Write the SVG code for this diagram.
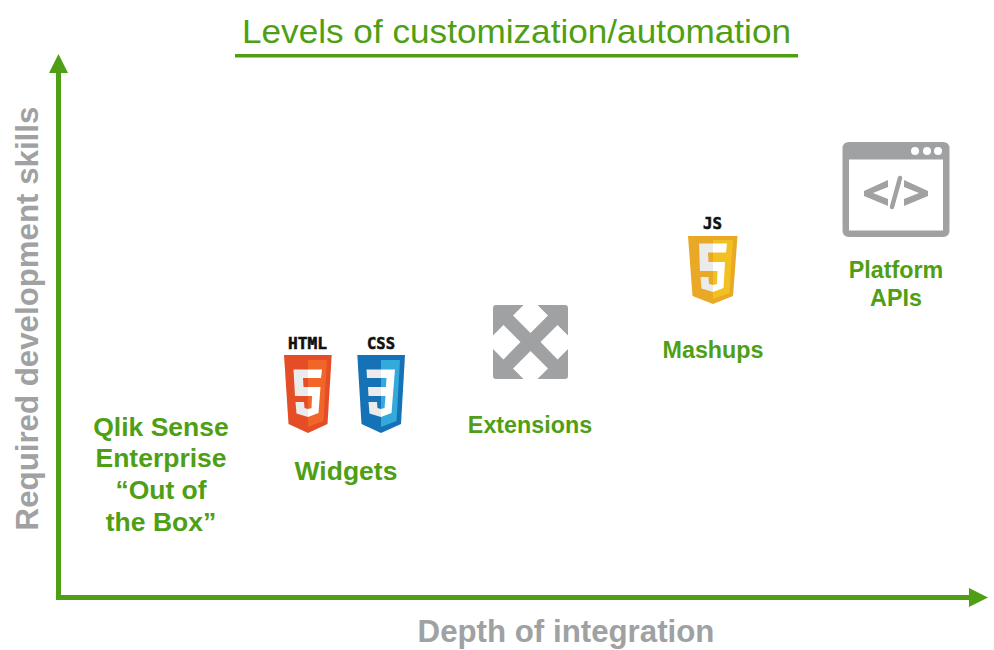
<svg xmlns="http://www.w3.org/2000/svg" width="994" height="650" viewBox="0 0 994 650">
<style>
text{font-family:"Liberation Sans",Arial,sans-serif}
.lbl{font-weight:700;font-size:23.300px;fill:#4f9f14;text-anchor:middle}
.big{font-size:26.500px}
.axis{font-weight:700;font-size:31.250px;fill:#a0a1a3;text-anchor:middle}
.badge{font-weight:700;font-size:16.500px;fill:#111;stroke:#111;stroke-width:.6px;text-anchor:middle;font-family:"DejaVu Sans Mono","Liberation Mono",monospace}
.line{stroke:#4f9f14;stroke-width:5;fill:none}
.head{fill:#4f9f14}
.gl{fill:#a0a1a3}
</style>
<rect width="994" height="650" fill="#fff"/>
<g id="title">
<text x="516.500" y="43" font-size="34" fill="#4f9f14" text-anchor="middle" textLength="549" lengthAdjust="spacingAndGlyphs">Levels of customization/automation</text>
<rect x="235" y="54" width="563" height="3.500" fill="#4f9f14"/>
</g>
<g id="connectors">
<path class="line" d="M58.500 72V597.500H972"/>
<path class="head" d="M58.500 54L68 73H49Z"/>
<path class="head" d="M988 597.500L969 588V607Z"/>
</g>
<g id="axis-y"><text class="axis" transform="translate(38 318.500) rotate(-90)">Required development skills</text></g>
<g id="axis-x"><text class="axis" x="566" y="642">Depth of integration</text></g>
<g id="out-of-box">
<text class="lbl big" x="161" y="436">Qlik Sense</text>
<text class="lbl big" x="161" y="467">Enterprise</text>
<text class="lbl big" x="161" y="499">“Out of</text>
<text class="lbl big" x="161" y="531">the Box”</text>
</g>
<g id="widgets">
<text class="badge" x="307.500" y="349" textLength="39" lengthAdjust="spacingAndGlyphs">HTML</text>
<path fill="#e44d26" d="M284 355H331.700L327.500 424L308 433L288.500 424Z"/>
<path fill="#f16529" d="M308 360H327L323.500 421L308 427Z"/>
<path fill="#ebebeb" d="M293.500 369.500H308V378H303L303.500 387H308V396H295ZM295.500 402H304L304.500 408L308 409V417L296.500 413.500Z"/>
<path fill="#fff" d="M308 369.500H322L321 378H308ZM308 387H320.500L318.500 413L308 417V409L311.500 408L312 396H308Z"/>
<text class="badge" x="381" y="349" textLength="28" lengthAdjust="spacingAndGlyphs">CSS</text>
<path fill="#1572b6" d="M357.300 355H405L401 424L381 433L361.500 424Z"/>
<path fill="#33a9dc" d="M381 360H400L396.500 421L381 427Z"/>
<path fill="#ebebeb" d="M366.500 369.500H381V378H367ZM368 387H381V396H368.500ZM368.500 402H377L377.500 408L381 409V417L369.500 413.500Z"/>
<path fill="#fff" d="M381 369.500H395L391.500 413L381 417V409L384.500 408L385.500 396H381V387H386L386.500 378H381Z"/>
<text class="lbl big" x="346" y="480">Widgets</text>
</g>
<g id="extensions">
<path class="gl" d="M496 305H523.500L513 315.500L530.500 333L548 315.500L537.500 305H565Q568 305 568 308V335.500L557.500 325L540.500 342L557.500 359.500L568 349V376Q568 379 565 379H537.500L548 368.500L530.500 351L513 368.500L523.500 379H496Q493 379 493 376V349L503.500 359.500L520.500 342L503.500 325L493 335.500V308Q493 305 496 305Z"/>
<text class="lbl" x="530" y="433">Extensions</text>
</g>
<g id="mashups">
<text class="badge" x="712.500" y="229" textLength="19" lengthAdjust="spacingAndGlyphs">JS</text>
<path fill="#e9a825" d="M688 236H737.500L733 296L713 304L692.500 296Z"/>
<path fill="#f2c020" d="M713 240H733L729.500 293L713 299Z"/>
<path fill="#ebebeb" d="M699 243.500H713V252.500H708L708.500 262H713V271H700ZM700.500 277H708.500L709 284L713 285V292L701.500 288.500Z"/>
<path fill="#fff" d="M713 243.500H727L726 252.500H713ZM713 262H725L723.500 288L713 292V285L717 284L717.500 271H713Z"/>
<text class="lbl" x="713" y="358">Mashups</text>
</g>
<g id="platform-apis">
<path class="gl" fill-rule="evenodd" d="M849 142H943Q949.500 142 949.500 148.500V230.500Q949.500 237 943 237H849Q842.500 237 842.500 230.500V148.500Q842.500 142 849 142ZM849 159.500V230.500H943V159.500Z"/>
<circle cx="915" cy="151" r="4" fill="#fff"/><circle cx="927" cy="151" r="4" fill="#fff"/><circle cx="938" cy="151" r="4" fill="#fff"/>
<path class="gl" d="M864 191L888 180V187L873 193L888 199V206L864 196ZM928 191L904 180V187L919 193L904 199V206L928 196Z"/>
<path d="M900 178L892 207" stroke="#a0a1a3" stroke-width="4.500" stroke-linecap="round"/>
<text class="lbl" x="896" y="278">Platform</text>
<text class="lbl" x="896" y="306">APIs</text>
</g>
</svg>
